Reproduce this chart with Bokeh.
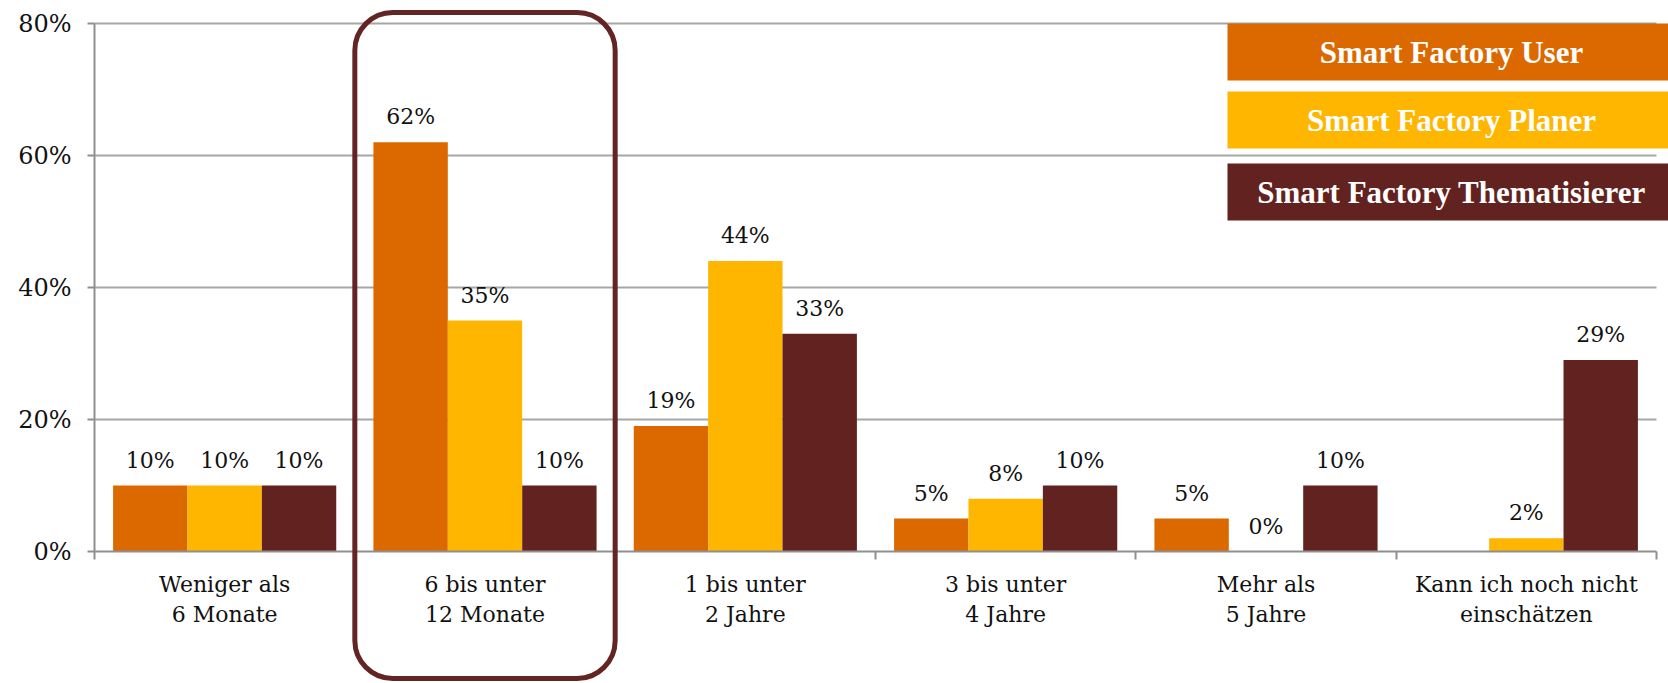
from bokeh.plotting import figure
from bokeh.models import (ColumnDataSource, Range1d, FixedTicker, NumeralTickFormatter,
                          BoxAnnotation, Label, LabelSet)
from bokeh.core.properties import value
from bokeh.embed import file_html
from bokeh.resources import INLINE

# ---- data -------------------------------------------------------------
categories = [
    "Weniger als\n6 Monate",
    "6 bis unter\n12 Monate",
    "1 bis unter\n2 Jahre",
    "3 bis unter\n4 Jahre",
    "Mehr als\n5 Jahre",
    "Kann ich noch nicht\neinschätzen",
]
series_names = ["Smart Factory User", "Smart Factory Planer", "Smart Factory Thematisierer"]
user = [0.10, 0.62, 0.19, 0.05, 0.05, None]
planer = [0.10, 0.35, 0.44, 0.08, 0.00, 0.02]
thematisierer = [0.10, 0.10, 0.33, 0.10, 0.10, 0.29]
y_ticks = [0.0, 0.2, 0.4, 0.6, 0.8]
highlight_index = 1  # "6 bis unter 12 Monate"

# ---- styling ------------------------------------------------------------
colors = ["#DC6900", "#FFB600", "#622320"]
frame_color = "#632523"
axis_color = "#8f8f8f"
grid_color = "#a6a6a6"
serif = "DejaVu Serif"
legend_font = "Liberation Serif"

W, H = 1668, 683
# pixel box of the value area inside the canvas
LEFT, RIGHT, TOP, BOTTOM = 94, 12, 23, 132
Y_MAX = 0.8
N = len(categories)
BAR_W = 1.0 / 3.5

PX_PER_X = (W - LEFT - RIGHT) / N
PX_PER_Y = (H - TOP - BOTTOM) / Y_MAX


def x_at(px):
    """Canvas pixel column -> x data value."""
    return (px - LEFT) / PX_PER_X


def y_at(py):
    """Canvas pixel row -> y data value."""
    return (H - BOTTOM - py) / PX_PER_Y


# The frame covers the whole canvas so the highlight frame and the legend
# boxes can reach into the margins; the axes sit at fixed data positions.
p = figure(
    width=W, height=H,
    x_range=Range1d(x_at(0), x_at(W)), y_range=Range1d(y_at(H), y_at(0)),
    output_backend="svg", toolbar_location=None,
    min_border=0,
)
p.outline_line_color = None
p.background_fill_color = "white"
p.border_fill_color = "white"
p.xgrid.visible = False
p.ygrid.visible = False

# ---- horizontal gridlines over the value area ----------------------------
p.segment(x0=[0] * (len(y_ticks) - 1), x1=[N] * (len(y_ticks) - 1),
          y0=y_ticks[1:], y1=y_ticks[1:],
          line_color=grid_color, line_width=2, level="underlay")

# ---- bars and value labels ---------------------------------------------
for k, (name, vals, color) in enumerate(zip(series_names, [user, planer, thematisierer], colors)):
    xs, tops, texts = [], [], []
    for i, v in enumerate(vals):
        if v is None:
            continue
        xs.append(i + 0.5 + (k - 1) * BAR_W)
        tops.append(v)
        texts.append(f"{round(v * 100)}%")
    src = ColumnDataSource(dict(x=xs, top=tops, label=texts))
    p.vbar(x="x", top="top", bottom=0, width=BAR_W, source=src,
           fill_color=color, line_color=None)
    p.add_layout(LabelSet(
        x="x", y="top", text="label", source=src,
        text_align="center", text_baseline="alphabetic", y_offset=18,
        text_font=value(serif), text_font_size=value("22px"), text_color="#111111",
    ))

# ---- axes ---------------------------------------------------------------
xa = p.xaxis[0]
xa.fixed_location = 0
xa.bounds = (0, N)
xa.ticker = FixedTicker(ticks=[i + 0.5 for i in range(N)], minor_ticks=list(range(N + 1)))
xa.major_label_overrides = {i + 0.5: c for i, c in enumerate(categories)}
xa.major_tick_in = 0
xa.major_tick_out = 0
xa.minor_tick_in = 0
xa.minor_tick_out = 8
xa.minor_tick_line_color = axis_color
xa.minor_tick_line_width = 2
xa.axis_line_color = axis_color
xa.axis_line_width = 2
xa.major_label_standoff = 12
xa.major_label_text_font = serif
xa.major_label_text_font_size = "22px"
xa.major_label_text_color = "#111111"

ya = p.yaxis[0]
ya.fixed_location = 0
ya.bounds = (0, Y_MAX)
ya.ticker = FixedTicker(ticks=y_ticks)
ya.formatter = NumeralTickFormatter(format="0%")
ya.major_tick_in = 0
ya.major_tick_out = 7
ya.major_tick_line_color = axis_color
ya.major_tick_line_width = 2
ya.minor_tick_line_color = None
ya.axis_line_color = axis_color
ya.axis_line_width = 2
ya.major_label_standoff = 16
ya.major_label_text_font = serif
ya.major_label_text_font_size = "24px"
ya.major_label_text_color = "#111111"

# ---- highlight frame around one category --------------------------------
p.add_layout(BoxAnnotation(
    left=highlight_index, right=highlight_index + 1,
    top=y_at(12), bottom=y_at(678),
    fill_color=None, fill_alpha=0,
    line_color=frame_color, line_alpha=1, line_width=5, border_radius=38,
))

# ---- legend boxes -------------------------------------------------------
legend_rows = [(23, 80), (91, 148), (163, 220)]
LEGEND_LEFT, LEGEND_RIGHT, LEGEND_TEXT_X = 1227, 1700, 1451
for name, color, (top_px, bot_px) in zip(series_names, colors, legend_rows):
    p.add_layout(BoxAnnotation(
        left=x_at(LEGEND_LEFT), right=x_at(LEGEND_RIGHT),
        top=y_at(top_px), bottom=y_at(bot_px),
        fill_color=color, fill_alpha=1, line_color=None,
    ))
    p.add_layout(Label(
        x=x_at(LEGEND_TEXT_X), y=y_at((top_px + bot_px) / 2), text=name,
        text_align="center", text_baseline="middle",
        text_font=legend_font, text_font_style="bold", text_font_size="31px",
        text_color="white",
    ))

open("out.html", "w").write(file_html(p, INLINE))
